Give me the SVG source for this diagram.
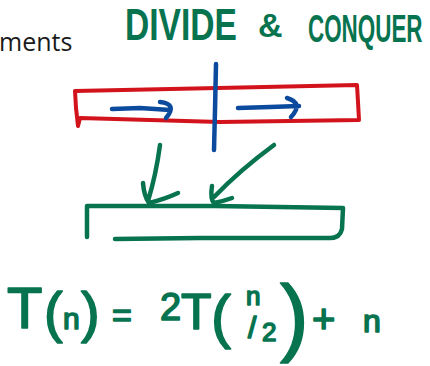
<svg xmlns="http://www.w3.org/2000/svg" width="430" height="366" viewBox="0 0 430 366">
<style>
.ink{fill:none;stroke-linecap:round;stroke-linejoin:round}
.red{stroke:#d3131c;stroke-width:4}
.blue{stroke:#0b4a9c;stroke-width:4.5}
.green{stroke:#07734f;stroke-width:4.5}
.hw{font-family:"Liberation Sans",Arial,sans-serif;fill:#07734f}
.b{font-weight:bold}
.f{stroke:#07734f;stroke-width:1.6;stroke-linejoin:round}
.body{font-family:"Open Sans","Noto Sans",sans-serif;fill:#1a1a1a}
</style>
<rect width="430" height="366" fill="#ffffff"/>
<text class="body" x="-1" y="51" font-size="25">ments</text>
<g id="title">
<text class="hw b" transform="translate(125,40) scale(0.763,1)" font-size="44">DIVIDE</text>
<text class="hw b" x="258" y="37" font-size="34">&amp;</text>
<text class="hw b" transform="translate(308,42) scale(0.59,1)" font-size="38">CONQUER</text>
</g>
<g id="array">
<path class="ink red" d="M75,91 L218,88 L357,85 L358,102 L359,120 L220,122 L80,118 L78,126 L76,108 Z"/>
</g>
<g id="divider">
<path class="ink blue" d="M216,64 L215,110 L214,150"/>
</g>
<g id="scan-arrows">
<path class="ink blue" d="M112,109 L140,108 L170,110 M160,102 Q178,104 166,118"/>
<path class="ink blue" d="M238,108 L270,107 L299,106 M287,98 Q304,103 291,117"/>
</g>
<g id="result">
<path class="ink green" d="M87,237 L87,206 L215,206 L343,208 L342,229 Q340,238 330,238 L200,238 L115,239"/>
</g>
<g id="connectors">
<path class="ink green" d="M160,145 Q156,175 148,201 M143,183 Q144,196 149,203 Q165,199 178,193"/>
<path class="ink green" d="M274,145 Q240,170 214,197 M212,186 Q210,199 214,203 Q224,201 232,198"/>
</g>
<g id="recurrence">
<text class="hw f" x="7" y="328" font-size="58">T</text>
<text class="hw f" x="44" y="331" font-size="56">(</text>
<text class="hw f" x="63" y="329" font-size="30">n</text>
<text class="hw f" x="81" y="331" font-size="56">)</text>
<text class="hw f" x="112" y="327" font-size="34">=</text>
<text class="hw f" x="160" y="320" font-size="38">2</text>
<text class="hw f" x="181" y="329" font-size="50">T</text>
<text class="hw f" x="211" y="337" font-size="60">(</text>
<text class="hw f" x="246" y="305" font-size="26">n</text>
<text class="hw f" x="248" y="338" font-size="30">/</text>
<text class="hw f" x="262" y="341" font-size="26">2</text>
<text class="hw f" x="280" y="345" font-size="86">)</text>
<text class="hw f" x="312" y="333" font-size="40">+</text>
<text class="hw f" x="363" y="332" font-size="32">n</text>
</g>
</svg>
